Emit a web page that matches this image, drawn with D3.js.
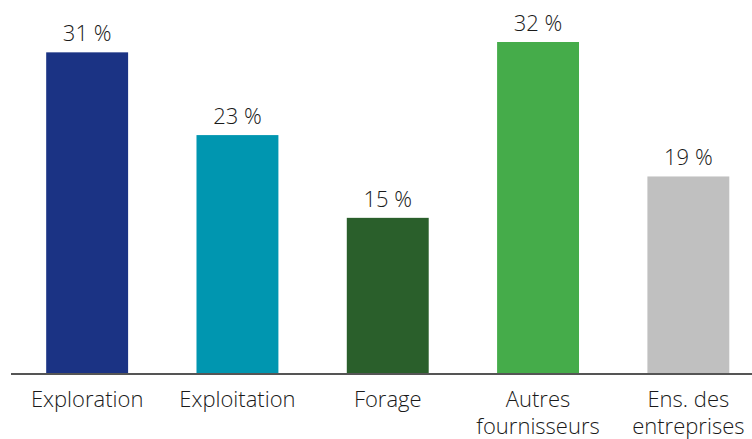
<!DOCTYPE html>
<html><head><meta charset="utf-8">
<script src="https://cdn.jsdelivr.net/npm/d3@7"></script>
<style>body{margin:0;background:#fff}svg{display:block}</style>
</head><body>
<svg id="c" width="752" height="439"></svg>
<script>
const categories = [["Exploration"],["Exploitation"],["Forage"],["Autres","fournisseurs"],["Ens. des","entreprises"]];
const values = [31, 23, 15, 32, 19];
const colors = ["#1b3384", "#0096b0", "#2a5f2b", "#45ac4a", "#c0c0c0"];

const svg = d3.select("#c");
const font = "'Open Sans', sans-serif";
const baseY = 373;
const x = d3.scaleBand().domain(d3.range(values.length)).range([12, 763.5]).paddingInner(0.455).paddingOuter(0.2275);
const y = d3.scaleLinear().domain([0, 32]).range([baseY, 42]);

svg.selectAll("rect.bar").data(values).join("rect")
  .attr("x", (d,i)=>x(i)).attr("width", x.bandwidth())
  .attr("y", d=>y(d)).attr("height", d=>baseY - y(d))
  .attr("fill", (d,i)=>colors[i]);

svg.selectAll("text.val").data(values).join("text")
  .attr("x", (d,i)=>x(i)+x.bandwidth()/2).attr("y", d=>y(d)-11)
  .attr("text-anchor","middle").attr("font-family",font).attr("font-size",22)
  .attr("font-weight",300).attr("fill","#1a1a1a").text(d=>d+" %");

svg.append("line").attr("x1",11).attr("x2",752).attr("y1",baseY+1).attr("y2",baseY+1)
  .attr("stroke","#555").attr("stroke-width",2);

categories.forEach((lines,i)=>{
  const t = svg.append("text").attr("text-anchor","middle").attr("font-family",font)
    .attr("font-size",22).attr("font-weight",300).attr("fill","#1a1a1a");
  lines.forEach((l,j)=>t.append("tspan").attr("x", x(i)+x.bandwidth()/2).attr("y", 407 + j*27).text(l));
});
</script>
</body></html>
